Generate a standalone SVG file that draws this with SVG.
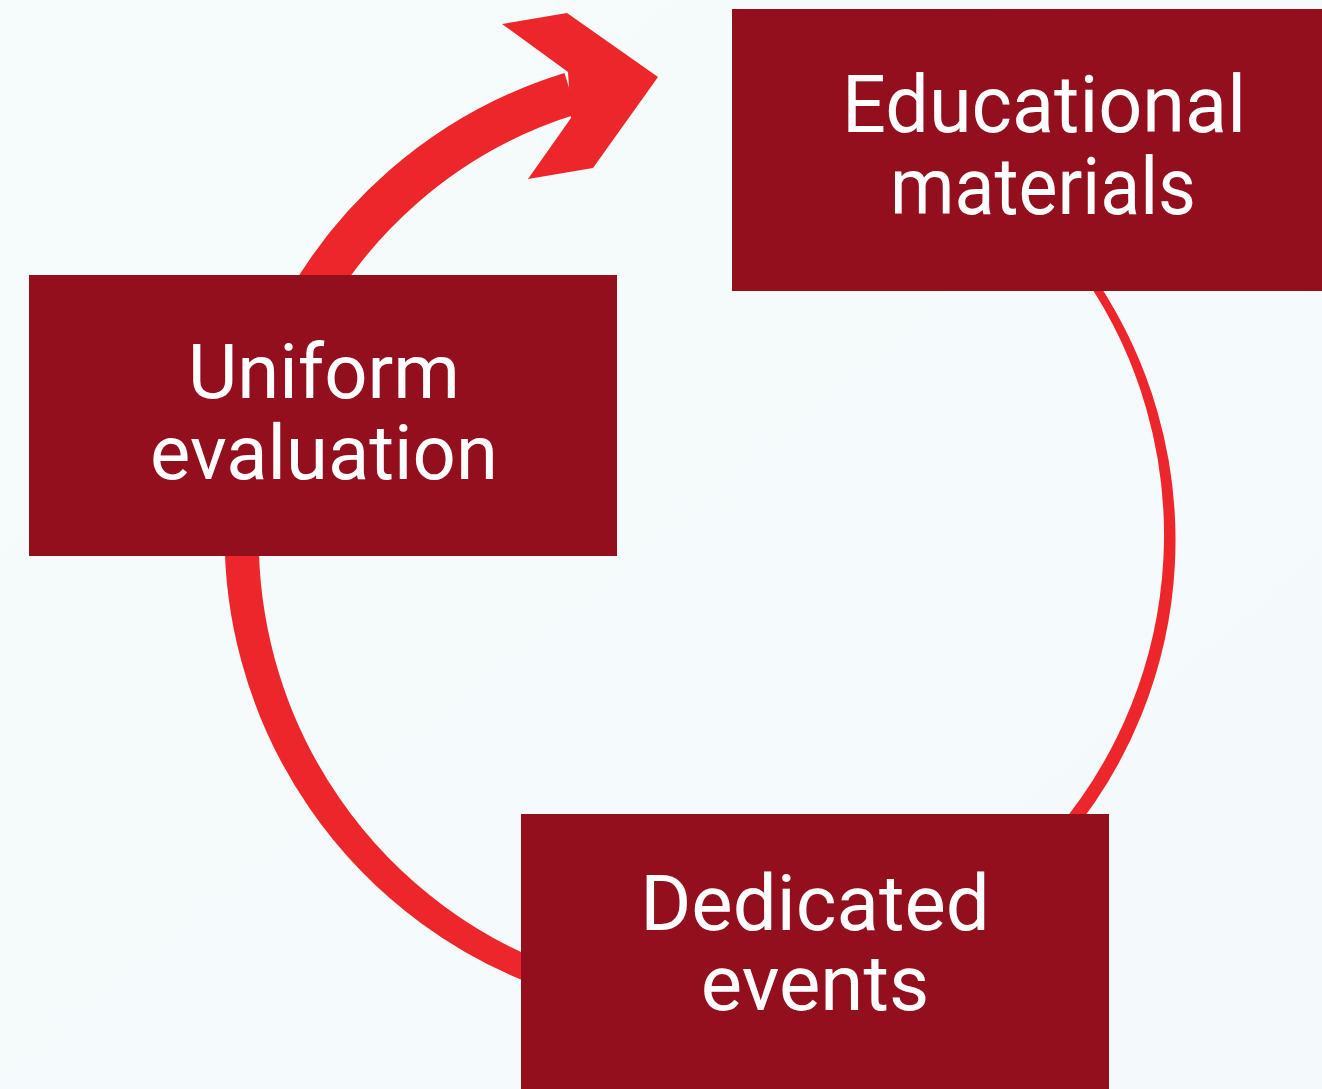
<svg xmlns="http://www.w3.org/2000/svg" width="1322" height="1089" viewBox="0 0 1322 1089">
  <defs>
    <linearGradient id="bg" x1="0" y1="0" x2="1" y2="1">
      <stop offset="0" stop-color="#f6fbfc"/>
      <stop offset="1" stop-color="#f4f9fb"/>
    </linearGradient>
    <style>
      .box { fill: #930f1e; }
      .lbl { fill: #ffffff; font-family: Roboto, "Liberation Sans", sans-serif; text-anchor: middle; }
      .arc { fill: none; stroke: #ec262a; stroke-linecap: butt; }
      .head { fill: #ec262a; }
    </style>
    <path id="arcRight" d="M1089.0 276.6 A462 462 0 0 1 1059.9 832.0"/>
    <path id="arcLeft" d="M561.1 981.1 A469 469 0 0 1 237.7 510.5"/>
  </defs>
  <rect x="0" y="0" width="1322" height="1089" fill="url(#bg)"/>

  <g id="connectors">
    <!-- right side: thin, widening downward -->
    <use href="#arcRight" class="arc" stroke-width="8"/>
    <use href="#arcRight" class="arc" stroke-width="8" transform="translate(3.5 5.2)"/>
    <!-- bottom-left: widening toward the left -->
    <use href="#arcLeft" class="arc" stroke-width="25"/>
    <use href="#arcLeft" class="arc" stroke-width="25" transform="translate(9.2 3.9)"/>
    <!-- top, with arrowhead -->
    <path class="arc" stroke-width="43" d="M288.2 340.2 A461 461 0 0 1 570.8 93.5"/>
    <polygon class="head" points="568,72 502,24 567,13 658,77 593,168 528,179 571,118"/>
  </g>

  <g id="node-educational">
    <rect class="box" x="732" y="9" width="590" height="282"/>
    <text class="lbl" x="1044" y="132" font-size="80" textLength="404" lengthAdjust="spacingAndGlyphs">Educational</text>
    <text class="lbl" x="1043" y="214" font-size="80" textLength="306" lengthAdjust="spacingAndGlyphs">materials</text>
  </g>

  <g id="node-uniform">
    <rect class="box" x="29" y="275" width="588" height="281"/>
    <text class="lbl" x="324" y="398" font-size="76">Uniform</text>
    <text class="lbl" x="324" y="479" font-size="76">evaluation</text>
  </g>

  <g id="node-dedicated">
    <rect class="box" x="521" y="814" width="588" height="275"/>
    <text class="lbl" x="815" y="930" font-size="78">Dedicated</text>
    <text class="lbl" x="815" y="1010" font-size="78">events</text>
  </g>
</svg>
